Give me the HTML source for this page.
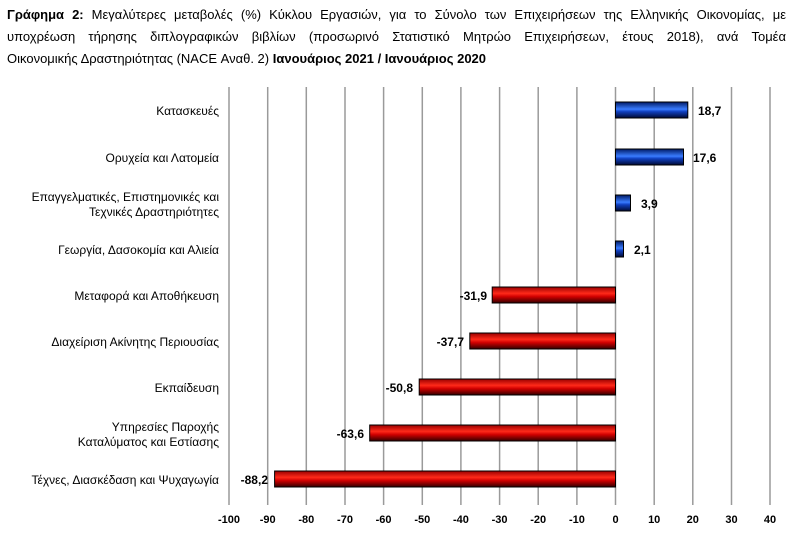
<!DOCTYPE html>
<html><head><meta charset="utf-8"><style>
body{margin:0;background:#fff;width:810px;height:540px;overflow:hidden;font-family:"Liberation Sans",sans-serif}
.t{position:absolute;left:7px;top:4px;width:779px;font-size:13px;line-height:22px;color:#000}
.t div{white-space:nowrap}
.j{text-align:justify;text-align-last:justify}
</style></head><body>
<div class="t">
<div class="j"><b>Γράφημα 2:</b> Μεγαλύτερες μεταβολές (%) Κύκλου Εργασιών, για το Σύνολο των Επιχειρήσεων της Ελληνικής Οικονομίας, με</div>
<div class="j">υποχρέωση τήρησης διπλογραφικών βιβλίων (προσωρινό Στατιστικό Μητρώο Επιχειρήσεων, έτους 2018), ανά Τομέα</div>
<div>Οικονομικής Δραστηριότητας (NACE Αναθ. 2) <b>Ιανουάριος 2021 / Ιανουάριος 2020</b></div>
</div>
<svg width="810" height="540" style="position:absolute;left:0;top:0" font-family="Liberation Sans, sans-serif">
<defs>
<linearGradient id="b" x1="0" y1="0" x2="0" y2="1"><stop offset="0" stop-color="#001a66"/><stop offset="0.45" stop-color="#3a7cff"/><stop offset="0.6" stop-color="#1040c0"/><stop offset="1" stop-color="#000a33"/></linearGradient>
<linearGradient id="r" x1="0" y1="0" x2="0" y2="1"><stop offset="0" stop-color="#990000"/><stop offset="0.4" stop-color="#ff2a1a"/><stop offset="0.6" stop-color="#d00000"/><stop offset="1" stop-color="#330000"/></linearGradient>
</defs>
<g stroke="#9a9a9a" stroke-width="1.5">
<line x1="229" y1="87" x2="229" y2="505"/><line x1="267.7" y1="87" x2="267.7" y2="505"/><line x1="306.3" y1="87" x2="306.3" y2="505"/><line x1="345" y1="87" x2="345" y2="505"/><line x1="383.6" y1="87" x2="383.6" y2="505"/><line x1="422.3" y1="87" x2="422.3" y2="505"/><line x1="460.9" y1="87" x2="460.9" y2="505"/><line x1="499.6" y1="87" x2="499.6" y2="505"/><line x1="538.2" y1="87" x2="538.2" y2="505"/><line x1="576.9" y1="87" x2="576.9" y2="505"/><line x1="615.5" y1="87" x2="615.5" y2="505"/><line x1="654.2" y1="87" x2="654.2" y2="505"/><line x1="692.8" y1="87" x2="692.8" y2="505"/><line x1="731.5" y1="87" x2="731.5" y2="505"/><line x1="770" y1="87" x2="770" y2="505"/>
</g>
<g stroke="#000" stroke-width="1">
<rect x="615.5" y="102" width="72.3" height="16" fill="url(#b)"/>
<rect x="615.5" y="149" width="68" height="16" fill="url(#b)"/>
<rect x="615.5" y="195" width="15" height="16" fill="url(#b)"/>
<rect x="615.5" y="241" width="8" height="16" fill="url(#b)"/>
<rect x="492.2" y="287" width="123.3" height="16" fill="url(#r)"/>
<rect x="469.8" y="333" width="145.7" height="16" fill="url(#r)"/>
<rect x="419.2" y="379" width="196.3" height="16" fill="url(#r)"/>
<rect x="369.7" y="425" width="245.8" height="16" fill="url(#r)"/>
<rect x="274.6" y="471" width="340.9" height="16" fill="url(#r)"/>
</g>
<g font-size="12" fill="#000" text-anchor="end">
<text x="219" y="115">Κατασκευές</text>
<text x="219" y="162">Ορυχεία και Λατομεία</text>
<text x="219" y="201">Επαγγελματικές, Επιστημονικές και</text>
<text x="219" y="216">Τεχνικές Δραστηριότητες</text>
<text x="219" y="254">Γεωργία, Δασοκομία και Αλιεία</text>
<text x="219" y="300">Μεταφορά και Αποθήκευση</text>
<text x="219" y="346">Διαχείριση Ακίνητης Περιουσίας</text>
<text x="219" y="392">Εκπαίδευση</text>
<text x="219" y="431">Υπηρεσίες Παροχής</text>
<text x="219" y="446">Καταλύματος και Εστίασης</text>
<text x="219" y="484">Τέχνες, Διασκέδαση και Ψυχαγωγία</text>
</g>
<g font-size="12" font-weight="bold" fill="#000">
<text x="698" y="115">18,7</text><text x="693" y="162">17,6</text><text x="641" y="208">3,9</text><text x="634" y="254">2,1</text>
<text x="487" y="300" text-anchor="end">-31,9</text><text x="464" y="346" text-anchor="end">-37,7</text><text x="413" y="392" text-anchor="end">-50,8</text><text x="364" y="438" text-anchor="end">-63,6</text><text x="268" y="484" text-anchor="end">-88,2</text>
</g>
<g font-size="11" font-weight="bold" fill="#000" text-anchor="middle">
<text x="229" y="523">-100</text><text x="267.7" y="523">-90</text><text x="306.3" y="523">-80</text><text x="345" y="523">-70</text><text x="383.6" y="523">-60</text><text x="422.3" y="523">-50</text><text x="460.9" y="523">-40</text><text x="499.6" y="523">-30</text><text x="538.2" y="523">-20</text><text x="576.9" y="523">-10</text><text x="615.5" y="523">0</text><text x="654.2" y="523">10</text><text x="692.8" y="523">20</text><text x="731.5" y="523">30</text><text x="770" y="523">40</text>
</g>
</svg>
</body></html>
